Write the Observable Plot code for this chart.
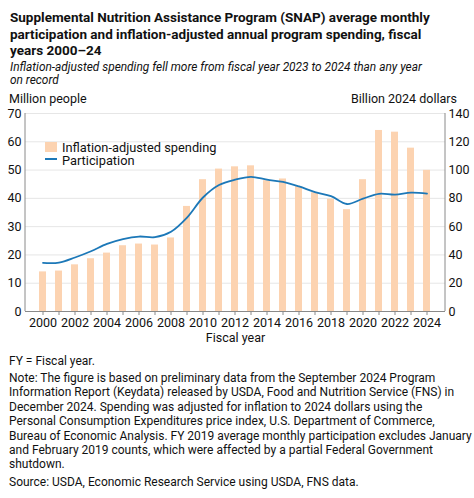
<!DOCTYPE html>
<html>
<head>
<meta charset="utf-8">
<script src="https://cdn.jsdelivr.net/npm/d3@7"></script>
<script src="https://cdn.jsdelivr.net/npm/@observablehq/plot@0.6"></script>
<style>
  body { margin: 0; background: #fff; font-family: Roboto, sans-serif; color: #111; }
  #wrap { position: relative; width: 474px; height: 498px; overflow: hidden; }
  .abs { position: absolute; white-space: nowrap; }
  #title { left: 10px; top: 9px; font-size: 13.5px; font-weight: 700; line-height: 16.5px; }
  #subtitle { left: 10px; top: 61px; font-size: 11.9px; font-style: italic; line-height: 12.5px; }
  .axlab { top: 91px; font-size: 12.5px; line-height: 15px; }
  #chart { left: 0; top: 104px; }
  .note { left: 9px; font-size: 12px; line-height: 14.4px; }
  .leg { font-size: 12.8px; line-height: 13px; }
</style>
</head>
<body>
<div id="wrap">
  <div id="title" class="abs">Supplemental Nutrition Assistance Program (SNAP) average monthly<br>participation and inflation-adjusted annual program spending, fiscal<br>years 2000–24</div>
  <div id="subtitle" class="abs">Inflation-adjusted spending fell more from fiscal year 2023 to 2024 than any year<br>on record</div>
  <div class="abs axlab" style="left:9px">Million people</div>
  <div class="abs axlab" style="right:17px">Billion 2024 dollars</div>
  <div id="chart" class="abs"></div>
  <div class="abs" style="left:45px;top:142px;width:12px;height:10px;background:#fcd3b1"></div>
  <div class="abs leg" style="left:62px;top:140.5px">Inflation-adjusted spending</div>
  <div class="abs" style="left:45px;top:158px;width:12px;height:2px;background:#1c78b8"></div>
  <div class="abs leg" style="left:62px;top:154px">Participation</div>
  <div class="abs note" style="top:354px">FY = Fiscal year.</div>
  <div class="abs note" style="top:371px">Note: The figure is based on preliminary data from the September 2024 Program<br>Information Report (Keydata) released by USDA, Food and Nutrition Service (FNS) in<br>December 2024. Spending was adjusted for inflation to 2024 dollars using the<br>Personal Consumption Expenditures price index, U.S. Department of Commerce,<br>Bureau of Economic Analysis. FY 2019 average monthly participation excludes January<br>and February 2019 counts, which were affected by a partial Federal Government<br>shutdown.</div>
  <div class="abs note" style="top:475px">Source: USDA, Economic Research Service using USDA, FNS data.</div>
</div>
<script>
const years = [2000,2001,2002,2003,2004,2005,2006,2007,2008,2009,2010,2011,2012,2013,2014,2015,2016,2017,2018,2019,2020,2021,2022,2023,2024];
// Inflation-adjusted spending, billion 2024 dollars (right axis)
const spending = [28.0,28.6,33.0,37.3,41.3,46.5,47.7,47.0,52.0,74.3,93.2,100.7,102.3,103.0,92.5,93.7,88.2,84.0,79.4,72.0,93.2,128.0,126.8,115.5,99.8];
// Average monthly participation, million people (left axis)
const participation = [17.2,17.3,19.1,21.3,23.9,25.6,26.5,26.3,28.2,33.2,40.3,44.7,46.6,47.6,46.6,45.8,44.2,42.2,40.8,38.0,39.9,41.6,41.3,42.0,41.7];
const leftTicks = [0,10,20,30,40,50,60,70];
const rightTicks = [0,20,40,60,80,100,120,140];
const xTickLabels = [2000,2002,2004,2006,2008,2010,2012,2014,2016,2018,2020,2022,2024];

const ratio = rightTicks[rightTicks.length-1] / leftTicks[leftTicks.length-1];
const data = years.map((y,i) => ({year: y, spend: spending[i], part: participation[i]}));

const chart = Plot.plot({
  width: 474,
  height: 244,
  marginTop: 9,
  marginBottom: 37,
  marginLeft: 25,
  marginRight: 29,
  style: {fontFamily: "Roboto, sans-serif", fontSize: "12.5px", color: "#111", background: "transparent"},
  x: {type: "band", domain: years, paddingInner: 0.56, paddingOuter: 0.28},
  y: {domain: [leftTicks[0], leftTicks[leftTicks.length-1]]},
  marks: [
    Plot.gridY(leftTicks.slice(1), {stroke: "#e6e6e6", strokeOpacity: 1}),
    Plot.barY(data, {x: "year", y1: 0, y2: d => d.spend / ratio, fill: "#fcd3b1"}),
    Plot.line(data, {x: "year", y: "part", stroke: "#1c78b8", strokeWidth: 1.8, curve: "catmull-rom"}),
    Plot.ruleY([0], {stroke: "#8a8a8a"}),
    Plot.axisY(leftTicks, {anchor: "left", tickSize: 0, tickPadding: 4, label: null, fontSize: 12.5}),
    Plot.axisY(leftTicks, {anchor: "right", tickSize: 0, tickPadding: 3, label: null, fontSize: 12.5,
      tickFormat: (d, i) => rightTicks[i]}),
    Plot.axisX(years, {anchor: "bottom", tickSize: 4, tickPadding: 3, label: null, stroke: "#8a8a8a", fontSize: 12.5,
      tickFormat: d => xTickLabels.includes(d) ? String(d) : ""}),
    Plot.text(["Fiscal year"], {frameAnchor: "bottom", dy: 30, fontSize: 12.5, fill: "#111"})
  ]
});
document.getElementById("chart").appendChild(chart);
const svg = d3.select(chart);
// drop empty tick labels (odd years keep only their tick mark)
svg.selectAll("text").filter(function() { return this.textContent === ""; }).remove();
// vertical axis lines at both frame edges
const xr = chart.scale("x").range, yr = chart.scale("y").range;
[xr[0], xr[1]].forEach(x => {
  svg.append("line").attr("x1", x).attr("x2", x).attr("y1", yr[1]).attr("y2", yr[0]).attr("stroke", "#8a8a8a");
});
</script>
</body>
</html>
